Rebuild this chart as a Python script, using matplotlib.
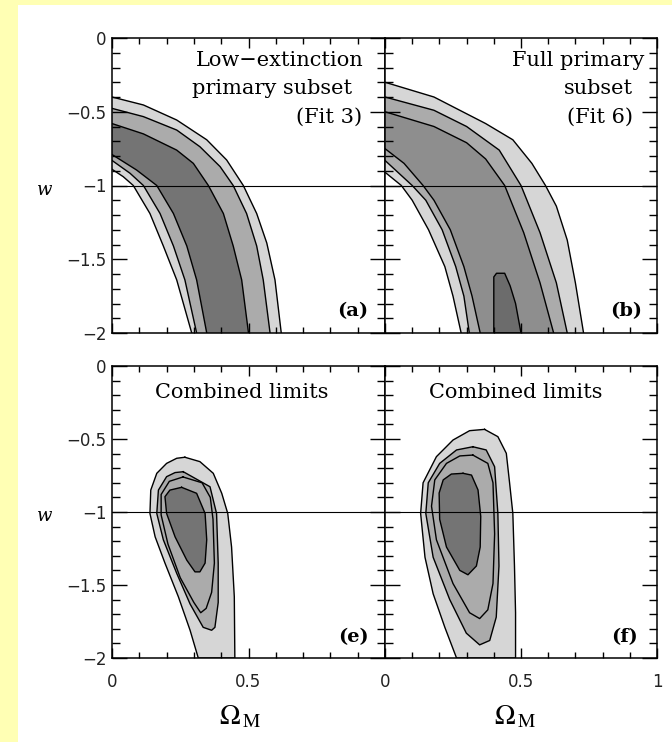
import numpy as np
import matplotlib
matplotlib.use('Agg')
import matplotlib.pyplot as plt
from matplotlib.patches import Rectangle
from matplotlib.ticker import MultipleLocator

plt.rcParams['font.family'] = ['DejaVu Sans']
plt.rcParams['mathtext.fontset'] = 'stix'

# contour boundaries, as (Omega_M, w) pairs
# panel (a) low-extinction subset: bands from the left edge down to w = -2
a_upper = [  # outer (light) -> inner (dark)
    [(0, -0.40), (0.115, -0.454), (0.237, -0.556), (0.347, -0.69), (0.42, -0.827),
     (0.481, -1.0), (0.53, -1.19), (0.567, -1.39), (0.597, -1.64), (0.62, -2.0)],
    [(0, -0.477), (0.115, -0.533), (0.237, -0.624), (0.322, -0.737), (0.396, -0.872),
     (0.444, -1.0), (0.493, -1.19), (0.53, -1.41), (0.554, -1.64), (0.579, -2.0)],
    [(0, -0.58), (0.115, -0.65), (0.237, -0.76), (0.298, -0.85), (0.353, -1.0),
     (0.408, -1.19), (0.444, -1.41), (0.475, -1.64), (0.50, -2.0)],
]
a_lower = [
    [(0, -0.89), (0.041, -0.94), (0.078, -1.0), (0.139, -1.19), (0.188, -1.41),
     (0.237, -1.64), (0.292, -2.0)],
    [(0, -0.83), (0.066, -0.917), (0.115, -1.0), (0.176, -1.19), (0.225, -1.41),
     (0.267, -1.64), (0.31, -2.0)],
    [(0, -0.79), (0.09, -0.895), (0.164, -1.0), (0.225, -1.19), (0.274, -1.41),
     (0.31, -1.64), (0.347, -2.0)],
]

# panel (b) full primary subset
b_upper = [
    [(0, -0.30), (0.18, -0.40), (0.37, -0.58), (0.47, -0.69), (0.54, -0.85),
     (0.59, -1.0), (0.63, -1.14), (0.67, -1.37), (0.70, -1.66), (0.73, -2.0)],
    [(0, -0.40), (0.18, -0.49), (0.30, -0.60), (0.42, -0.76), (0.50, -1.0),
     (0.57, -1.32), (0.63, -1.66), (0.67, -2.0)],
    [(0, -0.50), (0.18, -0.60), (0.30, -0.71), (0.37, -0.82), (0.44, -1.0),
     (0.51, -1.32), (0.57, -1.66), (0.62, -2.0)],
]
b_lower = [
    [(0, -0.91), (0.06, -1.0), (0.10, -1.10), (0.16, -1.30), (0.22, -1.55), (0.25, -1.75), (0.28, -2.0)],
    [(0, -0.83), (0.10, -1.0), (0.15, -1.10), (0.21, -1.30), (0.26, -1.55), (0.29, -1.75), (0.31, -2.0)],
    [(0, -0.75), (0.07, -0.85), (0.14, -1.0), (0.18, -1.10), (0.24, -1.30), (0.29, -1.55),
     (0.32, -1.75), (0.35, -2.0)],
]
b_core = [(0.40, -2.0), (0.40, -1.62), (0.41, -1.595), (0.44, -1.595), (0.46, -1.68),
          (0.48, -1.80), (0.50, -2.0)]

# panel (e) combined limits, closed loops
e_outer = [(0.267, -0.625), (0.322, -0.655), (0.371, -0.735), (0.402, -0.872), (0.424, -1.01),
           (0.438, -1.24), (0.448, -1.58), (0.45, -2.0), (0.316, -2.0), (0.286, -1.81),
           (0.243, -1.58), (0.194, -1.35), (0.158, -1.17), (0.139, -1.01), (0.142, -0.85),
           (0.164, -0.735), (0.20, -0.667), (0.237, -0.632)]
e_mid = [(0.261, -0.724), (0.359, -0.827), (0.383, -1.01), (0.389, -1.35), (0.389, -1.62),
         (0.377, -1.79), (0.365, -1.81), (0.334, -1.79), (0.286, -1.63), (0.237, -1.42),
         (0.188, -1.19), (0.164, -1.01), (0.17, -0.85), (0.20, -0.758), (0.231, -0.73)]
e_mid2 = [(0.26, -0.76), (0.33, -0.80), (0.36, -0.90), (0.37, -1.05), (0.375, -1.35),
          (0.365, -1.55), (0.345, -1.66), (0.325, -1.69), (0.30, -1.62), (0.25, -1.45),
          (0.205, -1.22), (0.18, -1.02), (0.18, -0.88), (0.21, -0.79)]
e_inner = [(0.255, -0.831), (0.31, -0.872), (0.341, -1.01), (0.347, -1.19), (0.341, -1.35),
           (0.322, -1.41), (0.304, -1.41), (0.274, -1.33), (0.231, -1.17), (0.20, -1.01),
           (0.194, -0.895), (0.212, -0.85)]

# panel (f)
f_outer = [(0.366, -0.434), (0.415, -0.484), (0.446, -0.598), (0.458, -0.80), (0.47, -1.01),
           (0.476, -1.37), (0.48, -1.69), (0.48, -2.0), (0.263, -2.0), (0.22, -1.79),
           (0.177, -1.56), (0.147, -1.31), (0.131, -1.01), (0.14, -0.80), (0.189, -0.621),
           (0.25, -0.507), (0.311, -0.443)]
f_mid = [(0.323, -0.553), (0.372, -0.575), (0.403, -0.69), (0.415, -1.01), (0.419, -1.37),
         (0.409, -1.72), (0.385, -1.88), (0.348, -1.91), (0.299, -1.83), (0.238, -1.60),
         (0.177, -1.31), (0.15, -1.01), (0.159, -0.80), (0.201, -0.667), (0.263, -0.575)]
f_mid2 = [(0.323, -0.61), (0.378, -0.667), (0.397, -0.80), (0.403, -1.15), (0.397, -1.49),
          (0.378, -1.67), (0.348, -1.73), (0.311, -1.69), (0.25, -1.49), (0.189, -1.19),
          (0.171, -0.96), (0.183, -0.78), (0.226, -0.667), (0.275, -0.616)]
f_inner = [(0.287, -0.735), (0.318, -0.747), (0.342, -0.849), (0.352, -1.03), (0.35, -1.24),
           (0.336, -1.37), (0.305, -1.43), (0.275, -1.40), (0.226, -1.24), (0.201, -1.05),
           (0.199, -0.87), (0.214, -0.78), (0.244, -0.74)]

w_ticks = [0, -0.5, -1, -1.5, -2]
w_labels = ['0', '\u22120.5', '\u22121', '\u22121.5', '\u22122']
om_ticks = [0, 0.5, 1]

light, medium, band_b, dark = '#d6d6d6', '#ababab', '#8e8e8e', '#747474'


def band(ax, upper, lower, color):
    up = np.array(upper)
    lo = np.array(lower)
    poly = np.vstack([up, lo[::-1]])
    ax.fill(poly[:, 0], poly[:, 1], color=color, lw=0, zorder=1)
    ax.plot(up[:, 0], up[:, 1], 'k-', lw=1.0, zorder=2)
    ax.plot(lo[:, 0], lo[:, 1], 'k-', lw=1.0, zorder=2)


def loop(ax, pts, color=None):
    p = np.array(pts + pts[:1])
    if color is not None:
        ax.fill(p[:, 0], p[:, 1], color=color, lw=0, zorder=1)
    ax.plot(p[:, 0], p[:, 1], 'k-', lw=1.0, zorder=2)


def setup(ax, left_labels, bottom_labels):
    ax.set_xlim(0, 1)
    ax.set_ylim(-2, 0)
    ax.xaxis.set_minor_locator(MultipleLocator(0.1))
    ax.yaxis.set_minor_locator(MultipleLocator(0.1))
    ax.set_yticks(w_ticks, w_labels if left_labels else [])
    ax.set_xticks(om_ticks, bottom_labels if bottom_labels else [])
    ax.tick_params(which='both', direction='in', top=True, right=True, width=1.0,
                   labelsize=12, labelcolor='#222222')
    ax.tick_params(axis='y', which='major', length=11, pad=4)
    ax.tick_params(axis='y', which='minor', length=5.5)
    ax.tick_params(axis='x', which='major', length=7, pad=11)
    ax.tick_params(axis='x', which='minor', length=4)
    for s in ax.spines.values():
        s.set_linewidth(1.1)
    ax.axhline(-1, color='k', lw=0.8, zorder=3)
    if left_labels:
        ax.text(-0.245, -1.03, 'w', transform=ax.get_yaxis_transform(), ha='center',
                va='center', family='DejaVu Serif', style='italic', size=13)


fig = plt.figure(figsize=(6.72, 7.42), dpi=100, facecolor='#ffffb4')
fig.add_artist(Rectangle((18 / 672, 0), 1 - 18 / 672, 1 - 5 / 742, transform=fig.transFigure,
                         facecolor='white', edgecolor='none', zorder=-10))

W, H = 672, 742
def add(left, top, right, bottom):
    return fig.add_axes([left / W, 1 - bottom / H, (right - left) / W, (bottom - top) / H])

ax_a = add(112, 38, 385, 333)
ax_b = add(385, 38, 657, 333)
ax_e = add(112, 366, 385, 658)
ax_f = add(385, 366, 657, 658)

serif = dict(family='DejaVu Serif', size=15)

# (a)
for up, lo, c in zip(a_upper, a_lower, [light, medium, dark]):
    band(ax_a, up, lo, c)
setup(ax_a, True, None)
ax_a.text(0.92, 0.925, 'Low\u2212extinction', transform=ax_a.transAxes, ha='right', va='center', **serif)
ax_a.text(0.88, 0.83, 'primary subset', transform=ax_a.transAxes, ha='right', va='center', **serif)
ax_a.text(0.915, 0.732, '(Fit 3)', transform=ax_a.transAxes, ha='right', va='center', **serif)
ax_a.text(0.883, 0.075, '(a)', transform=ax_a.transAxes, ha='center', va='center',
          family='DejaVu Serif', weight='bold', size=14)

# (b)
for up, lo, c in zip(b_upper, b_lower, [light, medium, band_b]):
    band(ax_b, up, lo, c)
loop(ax_b, b_core, '#6c6c6c')
setup(ax_b, False, None)
ax_b.text(0.952, 0.925, 'Full primary', transform=ax_b.transAxes, ha='right', va='center', **serif)
ax_b.text(0.91, 0.83, 'subset', transform=ax_b.transAxes, ha='right', va='center', **serif)
ax_b.text(0.91, 0.732, '(Fit 6)', transform=ax_b.transAxes, ha='right', va='center', **serif)
ax_b.text(0.886, 0.075, '(b)', transform=ax_b.transAxes, ha='center', va='center',
          family='DejaVu Serif', weight='bold', size=14)

# (e)
loop(ax_e, e_outer, light)
loop(ax_e, e_mid, medium)
loop(ax_e, e_mid2)
loop(ax_e, e_inner, dark)
setup(ax_e, True, ['0', '0.5', ''])
ax_e.text(0.477, 0.908, 'Combined limits', transform=ax_e.transAxes, ha='center', va='center', **serif)
ax_e.text(0.883, 0.072, '(e)', transform=ax_e.transAxes, ha='center', va='center',
          family='DejaVu Serif', weight='bold', size=14)
ax_e.text(0.47, -0.2, r'$\Omega_{\,\mathrm{M}}$', transform=ax_e.transAxes, ha='center',
          va='center', size=20)

# (f)
loop(ax_f, f_outer, light)
loop(ax_f, f_mid, medium)
loop(ax_f, f_mid2)
loop(ax_f, f_inner, dark)
setup(ax_f, False, ['0', '0.5', '1'])
ax_f.text(0.48, 0.908, 'Combined limits', transform=ax_f.transAxes, ha='center', va='center', **serif)
ax_f.text(0.88, 0.072, '(f)', transform=ax_f.transAxes, ha='center', va='center',
          family='DejaVu Serif', weight='bold', size=14)
ax_f.text(0.48, -0.2, r'$\Omega_{\,\mathrm{M}}$', transform=ax_f.transAxes, ha='center',
          va='center', size=20)

fig.savefig('out.png', dpi=100)
